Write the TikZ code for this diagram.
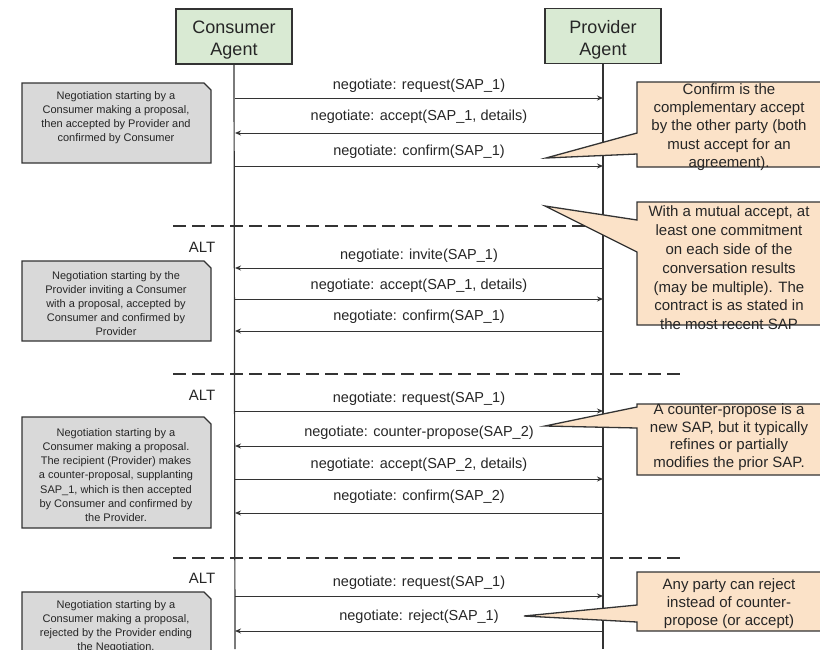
\documentclass[tikz,border=0pt]{standalone}
\usepackage{fontspec}
\setmainfont{Liberation Sans}
\usetikzlibrary{arrows.meta}
\definecolor{hdrgreen}{RGB}{217,234,211}
\definecolor{notegray}{RGB}{217,217,217}
\definecolor{peach}{RGB}{251,226,200}
\definecolor{ink}{RGB}{51,51,51}
\begin{document}
\begin{tikzpicture}[x=1pt,y=-1pt,
  hdr/.style={draw=ink, line width=1.3pt, fill=hdrgreen, minimum width=116pt, minimum height=55pt, inner sep=0pt},
  hdrtxt/.style={align=center, font=\fontsize{18}{22.5}\selectfont, inner sep=0pt, text=black!85},
  life/.style={ink, line width=1.2pt},
  msg/.style={ink, line width=1pt, -{Stealth[length=6pt,width=5pt]}},
  lbl/.style={font=\fontsize{14.5}{17}\selectfont, text=black!85, inner sep=0pt},
  altsep/.style={ink, line width=1.2pt, dash pattern=on 13pt off 6pt},
  alttxt/.style={font=\fontsize{15}{18}\selectfont, text=black!85, inner sep=0pt},
  notebox/.style={draw=ink, line width=1.3pt, fill=notegray},
  notetxt/.style={font=\fontsize{11}{14.2}\selectfont, align=center, text=black!85, inner sep=0pt},
  callbox/.style={draw=ink, line width=1.3pt, fill=peach, line join=miter},
  calltxt/.style={align=center, text=black!85, inner sep=0pt}
]
\useasboundingbox (0,0) rectangle (820,649);

% headers and lifelines
\node[hdr] (ca) at (234,36.5) {};
\node[hdrtxt] (cat) at (234,40) {Consumer\\Agent};
\node[hdr] (pa) at (603,36) {};
\node[hdrtxt] (pat) at (603,40) {Provider\\Agent};
\coordinate (cend) at (235,649);
\coordinate (pend) at (603,649);
\draw[life] (ca.south) -- (cend);
\draw[life] (pa.south) -- (pend);

% block 1
\coordinate (c1) at (235,98);  \coordinate (p1) at (603,98);
\coordinate (c2) at (235,133); \coordinate (p2) at (603,133);
\coordinate (c3) at (235,166); \coordinate (p3) at (603,166);
\draw[msg] (c1) -- (p1);
\draw[msg] (p2) -- (c2);
\draw[msg] (c3) -- (p3);
\node[lbl] (l1) at (419,86) {negotiate: request(SAP\_1)};
\node[lbl] (l2) at (419,117) {negotiate: accept(SAP\_1, details)};
\node[lbl] (l3) at (419,152) {negotiate: confirm(SAP\_1)};

% separator 1
\coordinate (d1a) at (173,226); \coordinate (d1b) at (680,226);
\draw[altsep] (d1a) -- (d1b);
\node[alttxt] (alt1) at (202,247) {ALT};

% block 2
\coordinate (c4) at (235,268); \coordinate (p4) at (603,268);
\coordinate (c5) at (235,299); \coordinate (p5) at (603,299);
\coordinate (c6) at (235,331); \coordinate (p6) at (603,331);
\draw[msg] (p4) -- (c4);
\draw[msg] (c5) -- (p5);
\draw[msg] (p6) -- (c6);
\node[lbl] (l4) at (419,256) {negotiate: invite(SAP\_1)};
\node[lbl] (l5) at (419,286) {negotiate: accept(SAP\_1, details)};
\node[lbl] (l6) at (419,317) {negotiate: confirm(SAP\_1)};

% separator 2
\coordinate (d2a) at (173,374); \coordinate (d2b) at (680,374);
\draw[altsep] (d2a) -- (d2b);
\node[alttxt] (alt2) at (202,395) {ALT};

% block 3
\coordinate (c7) at (235,411);  \coordinate (p7) at (603,411);
\coordinate (c8) at (235,446);  \coordinate (p8) at (603,446);
\coordinate (c9) at (235,479);  \coordinate (p9) at (603,479);
\coordinate (c10) at (235,513); \coordinate (p10) at (603,513);
\draw[msg] (c7) -- (p7);
\draw[msg] (p8) -- (c8);
\draw[msg] (c9) -- (p9);
\draw[msg] (p10) -- (c10);
\node[lbl] (l7) at (419,399) {negotiate: request(SAP\_1)};
\node[lbl] (l8) at (419,433) {negotiate: counter-propose(SAP\_2)};
\node[lbl] (l9) at (419,465) {negotiate: accept(SAP\_2, details)};
\node[lbl] (l10) at (419,497) {negotiate: confirm(SAP\_2)};

% separator 3
\coordinate (d3a) at (173,558); \coordinate (d3b) at (680,558);
\draw[altsep] (d3a) -- (d3b);
\node[alttxt] (alt3) at (202,578) {ALT};

% block 4
\coordinate (c11) at (235,596); \coordinate (p11) at (603,596);
\coordinate (c12) at (235,631); \coordinate (p12) at (603,631);
\draw[msg] (c11) -- (p11);
\draw[msg] (p12) -- (c12);
\node[lbl] (l11) at (419,583) {negotiate: request(SAP\_1)};
\node[lbl] (l12) at (419,617) {negotiate: reject(SAP\_1)};

% left notes
\draw[notebox] (22,83) -- (204,83) -- (211,90) -- (211,163) -- (22,163) -- cycle;
\node[notetxt] (n1) at (116,117.5) {Negotiation starting by a\\Consumer making a proposal,\\then accepted by Provider and\\confirmed by Consumer};
\draw[notebox] (22,261) -- (204,261) -- (211,268) -- (211,341) -- (22,341) -- cycle;
\node[notetxt] (n2) at (116,303.5) {Negotiation starting by the\\Provider inviting a Consumer\\with a proposal, accepted by\\Consumer and confirmed by\\Provider};
\draw[notebox] (22,417) -- (204,417) -- (211,424) -- (211,528) -- (22,528) -- cycle;
\node[notetxt] (n3) at (116,475) {Negotiation starting by a\\Consumer making a proposal.\\The recipient (Provider) makes\\a counter-proposal, supplanting\\SAP\_1, which is then accepted\\by Consumer and confirmed by\\the Provider.};
\draw[notebox] (22,592) -- (204,592) -- (211,599) -- (211,665) -- (22,665) -- cycle;
\node[notetxt, anchor=north] (n4) at (116,600) {Negotiation starting by a\\Consumer making a proposal,\\rejected by the Provider ending\\the Negotiation.};

% callouts
\draw[callbox] (637,82) -- (824,82) -- (824,167) -- (637,167) -- (637,154) -- (546,158) -- (637,133) -- cycle;
\node[calltxt, font=\fontsize{15}{18.2}\selectfont] (k1) at (729,127) {Confirm is the\\complementary accept\\by the other party (both\\must accept for an\\agreement).};

\draw[callbox] (637,202) -- (824,202) -- (824,325) -- (637,325) -- (637,252) -- (545,206) -- (637,220) -- cycle;
\node[calltxt, font=\fontsize{15}{18.8}\selectfont] (k2) at (729,268) {With a mutual accept, at\\least one commitment\\on each side of the\\conversation results\\(may be multiple). The\\contract is as stated in\\the most recent SAP};

\draw[callbox] (637,404) -- (824,404) -- (824,475) -- (637,475) -- (637,428) -- (545,426) -- (637,407) -- cycle;
\node[calltxt, font=\fontsize{15}{17.5}\selectfont] (k3) at (729,437) {A counter-propose is a\\new SAP, but it typically\\refines or partially\\modifies the prior SAP.};

\draw[callbox] (637,572) -- (824,572) -- (824,631) -- (637,631) -- (637,622) -- (524,616) -- (637,605) -- cycle;
\node[calltxt, font=\fontsize{15}{18}\selectfont] (k4) at (729,604) {Any party can reject\\instead of counter-\\propose (or accept)};
\end{tikzpicture}
\end{document}
